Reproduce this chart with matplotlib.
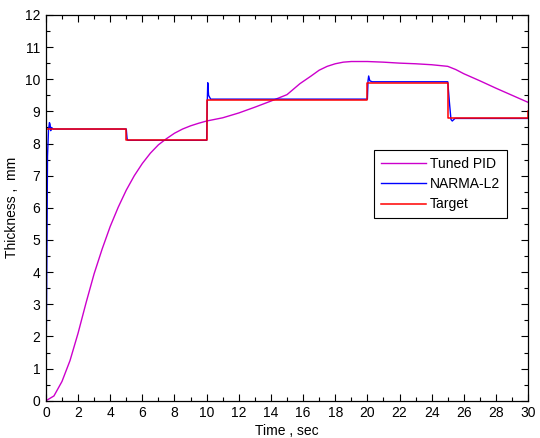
import matplotlib.pyplot as plt
from matplotlib.ticker import MultipleLocator

# Target set-points (steps)
target_t = [0, 5, 10, 20, 25, 30]
target_v = [8.45, 8.1, 9.35, 9.88, 8.78, 9.02]

# NARMA-L2 response
narma_t = [0, 0.04, 0.1, 0.16, 0.22, 0.26, 0.3, 0.35, 0.45, 5.0, 5.05, 5.1, 10.0, 10.04, 10.07,
           10.12, 10.25, 20.0, 20.04, 20.08, 20.15, 20.3, 25.0, 25.1, 25.2, 25.28, 25.45, 30]
narma_v = [0, 3.0, 7.6, 8.4, 8.65, 8.6, 8.4, 8.5, 8.45, 8.45, 8.15, 8.1, 8.1, 9.3, 9.89,
           9.5, 9.38, 9.38, 9.95, 10.1, 9.95, 9.92, 9.92, 9.3, 8.75, 8.7, 8.78, 8.78]

# Tuned PID response
pid_t = [0, 0.5, 1, 1.5, 2, 2.5, 3, 3.5, 4, 4.5, 5, 5.5, 6, 6.5, 7, 7.5, 8, 8.5, 9, 9.5,
         10, 11, 12, 13, 14, 15, 15.8, 16.5, 17, 17.5, 18, 18.5, 19, 20, 21, 22, 23, 24,
         25, 25.5, 26, 27, 28, 29, 30]
pid_v = [0, 0.15, 0.6, 1.25, 2.1, 3.05, 3.95, 4.72, 5.42, 6.02, 6.55, 7.0, 7.38, 7.7, 7.96,
         8.15, 8.32, 8.45, 8.55, 8.63, 8.7, 8.8, 8.95, 9.13, 9.32, 9.52, 9.86, 10.1, 10.28,
         10.4, 10.48, 10.53, 10.55, 10.55, 10.53, 10.5, 10.48, 10.45, 10.4, 10.3, 10.17,
         9.95, 9.72, 9.5, 9.28]

plt.rcParams['font.family'] = ['Liberation Sans', 'DejaVu Sans']
plt.rcParams['font.size'] = 10

fig = plt.figure(figsize=(5.4, 4.38), dpi=100)
ax = fig.add_axes([0.085, 0.085, 0.893, 0.881])

ax.plot(pid_t, pid_v, color='#cc00cc', lw=1, label='Tuned PID')
ax.plot(narma_t, narma_v, color='#0000ff', lw=1, label='NARMA-L2')
ax.plot(target_t, target_v, color='#ff0000', lw=1.1, drawstyle='steps-post', label='Target')

ax.set_xlim(0, 30)
ax.set_ylim(0, 12)
ax.xaxis.set_major_locator(MultipleLocator(2))
ax.xaxis.set_minor_locator(MultipleLocator(1))
ax.yaxis.set_major_locator(MultipleLocator(1))
ax.yaxis.set_minor_locator(MultipleLocator(0.5))
ax.tick_params(which='both', direction='in', top=True, right=True, width=0.8)
ax.tick_params(which='major', length=5, pad=4)
ax.tick_params(which='minor', length=3)
for s in ax.spines.values():
    s.set_linewidth(0.9)

ax.set_xlabel('Time , sec', labelpad=3)
ax.set_ylabel('Thickness ,  mm', labelpad=4)

leg = ax.legend(loc='upper right', bbox_to_anchor=(0.971, 0.668), fancybox=False,
                edgecolor='black', framealpha=1, handlelength=3.2, borderpad=0.5,
                labelspacing=0.45, handletextpad=0.3)
leg.get_frame().set_linewidth(0.8)

fig.savefig('out.png', dpi=100)
